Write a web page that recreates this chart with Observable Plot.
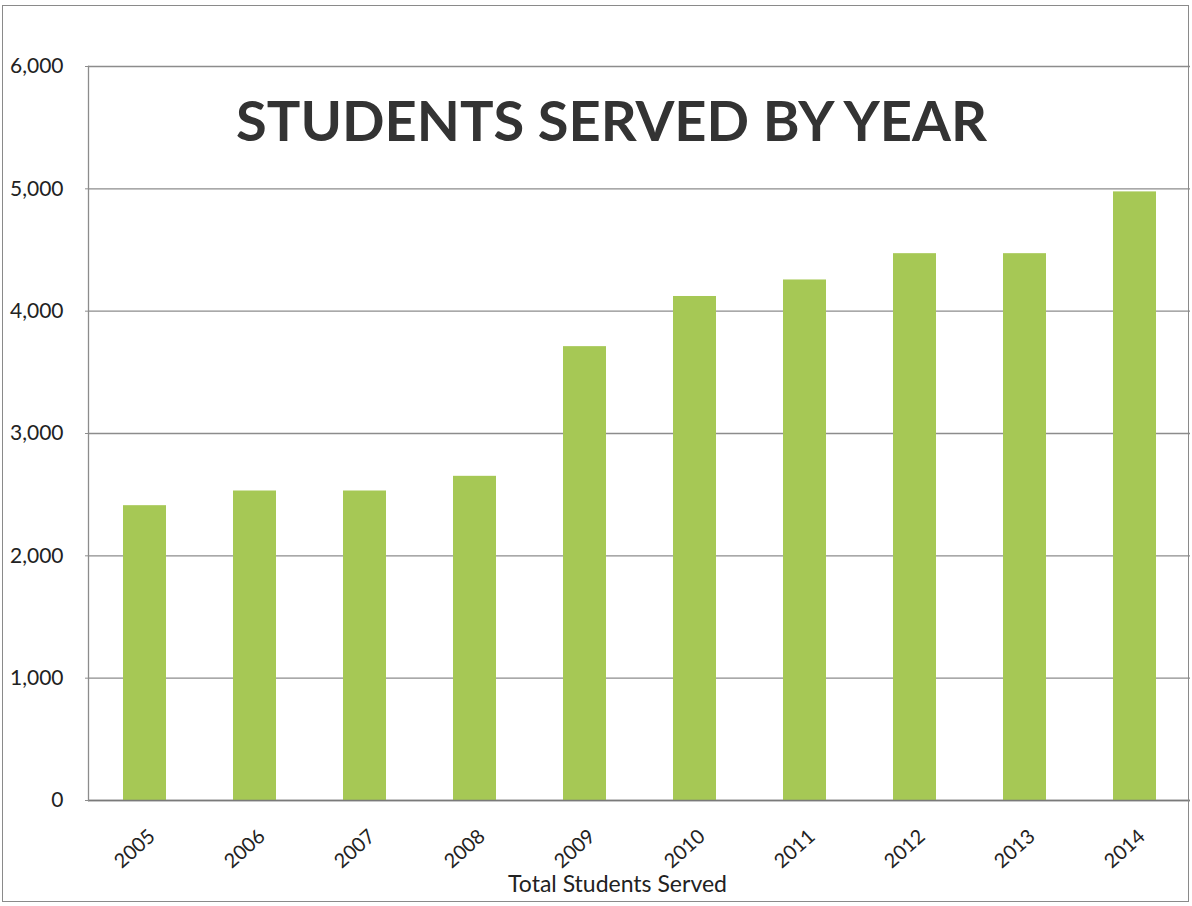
<!DOCTYPE html>
<html>
<head>
<meta charset="utf-8">
<script src="https://cdn.jsdelivr.net/npm/d3@7"></script>
<script src="https://cdn.jsdelivr.net/npm/@observablehq/plot@0.6"></script>
<style>
  html, body { margin: 0; padding: 0; background: #fff; }
  #wrap { position: relative; width: 1192px; height: 906px; overflow: hidden; }
  #border { position: absolute; left: 2px; top: 5px; width: 1187px; height: 897px; border: 1.5px solid #8a8a8a; box-sizing: border-box; pointer-events: none; }
  svg { font-family: Lato, "Open Sans", sans-serif; }
</style>
</head>
<body>
<div id="wrap"><div id="border"></div></div>
<script>
const years = ["2005","2006","2007","2008","2009","2010","2011","2012","2013","2014"];
const students = [2410, 2530, 2530, 2650, 3710, 4120, 4255, 4470, 4470, 4975];
const yTicks = [0, 1000, 2000, 3000, 4000, 5000, 6000];
const title = "STUDENTS SERVED BY YEAR";
const xLabel = "Total Students Served";

const data = years.map((y, i) => ({year: y, value: students[i]}));

const chart = Plot.plot({
  width: 1192,
  height: 906,
  marginTop: 66,
  marginBottom: 106,
  marginLeft: 88,
  marginRight: 2,
  style: {fontFamily: "Lato, 'Open Sans', sans-serif", background: "transparent"},
  x: {domain: years, paddingInner: 0.61, paddingOuter: 0.3, label: null},
  y: {domain: [0, 6000], label: null},
  marks: [
    Plot.gridY(yTicks, {stroke: "#8c8c8c", strokeOpacity: 1, strokeWidth: 1.3}),
    Plot.barY(data, {x: "year", y: "value", fill: "#a6c855"}),
    Plot.ruleY([0], {stroke: "#7a7a7a", strokeWidth: 1.5}),
    Plot.frame({anchor: "left", stroke: "#8c8c8c", strokeWidth: 1.3}),
    Plot.axisY(yTicks, {tickFormat: d3.format(","), tickSize: 3, tickPadding: 22, fontSize: 21, fill: "#222", stroke: "#8c8c8c", label: null}),
    Plot.axisX({tickRotate: -42, tickSize: 0, tickPadding: 0, fontSize: 20, fill: "#222", dx: 7, dy: 33, label: null}),
    Plot.text([title], {frameAnchor: "top", dx: -28, dy: 57, fontSize: 56, fontWeight: "bold", fill: "#333", lineAnchor: "middle"}),
    Plot.text([xLabel], {frameAnchor: "bottom", dx: -22, dy: 84, fontSize: 23, fill: "#222", lineAnchor: "middle"})
  ]
});
document.getElementById("wrap").appendChild(chart);
</script>
</body>
</html>
